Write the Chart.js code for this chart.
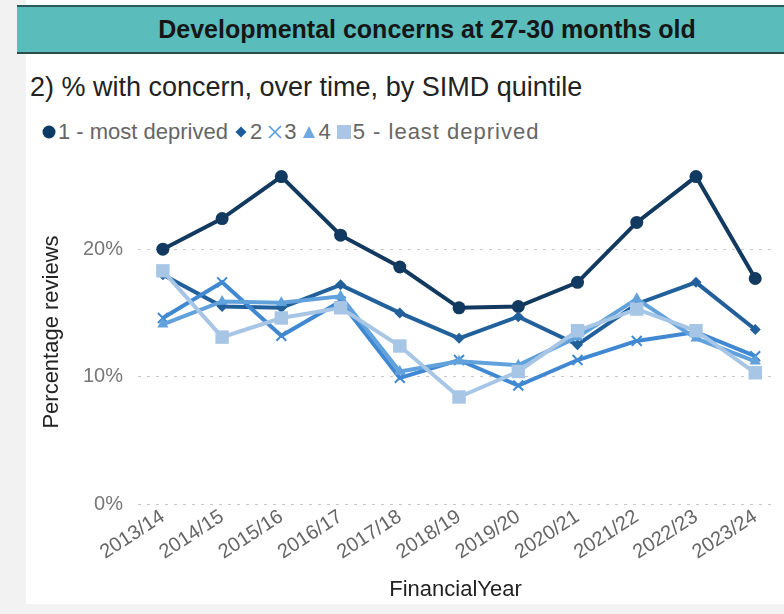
<!DOCTYPE html>
<html lang="en">
<head>
<meta charset="UTF-8">
<title>Developmental concerns at 27-30 months old</title>
<script src="https://cdn.jsdelivr.net/npm/chart.js@4.4.0/dist/chart.umd.min.js"></script>
<style>
  body { margin: 0; width: 784px; height: 614px; background: #f2f2f2; position: relative; overflow: hidden;
         font-family: "Liberation Sans", Arial, sans-serif; }
  #panel { position: absolute; left: 26px; top: 0; width: 758px; height: 604px; background: #fff; }
  #header { position: absolute; left: 17px; top: 5px; width: 767px; height: 45px; background: #5bbcbc;
            border-top: 2px solid #2c5a5a; border-bottom: 2px solid #2c4c4c; }
  #header-title { text-align: center; padding-left: 53px; font-weight: bold; font-size: 25px; line-height: 45px; color: #161616; }
  #subtitle { position: absolute; left: 30px; top: 72px; font-size: 27px; color: #222; white-space: nowrap; }
  #legend { position: absolute; left: 42px; top: 119px; height: 26px; font-size: 22px; color: #666;
            display: flex; align-items: center; white-space: nowrap; }
  .item { display: flex; align-items: center; margin-right: 6px; }
  .item svg { margin-right: 2px; }
  .item.wide span { letter-spacing: 1px; }
  #wrap { position: absolute; left: 0; top: 133px; width: 784px; height: 473px; }
</style>
</head>
<body>
<div id="panel"></div>
<div id="header"><div id="header-title">Developmental concerns at 27-30 months old</div></div>
<div id="subtitle">2) % with concern, over time, by SIMD quintile</div>
<div id="legend"></div>
<div id="wrap"><canvas id="chart" width="784" height="473"></canvas></div>

<script>
  // financial years on the x axis
  const years = ['2013/14', '2014/15', '2015/16', '2016/17', '2017/18', '2018/19',
                 '2019/20', '2020/21', '2021/22', '2022/23', '2023/24'];

  // % of reviews with a concern, per SIMD quintile
  const quint1 = [20.0, 22.4, 25.7, 21.1, 18.6, 15.4, 15.5, 17.4, 22.1, 25.7, 17.7];
  const quint2 = [18.0, 15.5, 15.4, 17.2, 15.0, 13.0, 14.7, 12.5, 15.7, 17.4, 13.7];
  const quint3 = [14.6, 17.4, 13.2, 15.9, 9.9, 11.3, 9.3, 11.3, 12.8, 13.5, 11.6];
  const quint4 = [14.1, 15.9, 15.8, 16.3, 10.4, 11.2, 10.9, 13.1, 16.1, 13.0, 11.2];
  const quint5 = [18.3, 13.1, 14.6, 15.4, 12.4, 8.4, 10.4, 13.6, 15.3, 13.6, 10.3];

  const seriesNames = ['1 - most deprived', '2', '3', '4', '5 - least deprived'];
  const yTicks = [0, 10, 20];

  const colours = ['#12395f', '#22609c', '#4089d2', '#62a2dc', '#a7c6e6'];
  const shapes  = ['circle', 'rectRot', 'crossRot', 'triangle', 'rect'];
  const radii   = [6.5, 5.5, 7, 6.5, 9.5];
  const allData = [quint1, quint2, quint3, quint4, quint5];

  const datasets = allData.map((vals, k) => ({
    label: seriesNames[k],
    data: vals.map((v, i) => ({ x: i, y: v })),
    borderColor: colours[k],
    backgroundColor: colours[k],
    borderWidth: 4,
    tension: 0,
    pointStyle: shapes[k],
    pointRadius: radii[k],
    pointBorderWidth: shapes[k] === 'crossRot' ? 2 : 0,
    pointBorderColor: colours[k],
    pointBackgroundColor: colours[k],
    order: 5 - k   // quintile 5 ends up on top
  }));

  // legend built as html so the marker/text gaps stay tight
  function markerSvg(shape, col) {
    let body = '';
    if (shape === 'circle') body = `<circle cx="7" cy="7" r="6.5" fill="${col}"/>`;
    if (shape === 'rectRot') body = `<polygon points="7,1.5 12.5,7 7,12.5 1.5,7" fill="${col}"/>`;
    if (shape === 'crossRot') body = `<path d="M1,1 L13,13 M13,1 L1,13" stroke="${col}" stroke-width="1.6" fill="none"/>`;
    if (shape === 'triangle') body = `<polygon points="7,1 13,13 1,13" fill="${col}"/>`;
    if (shape === 'rect') body = `<rect x="0" y="0" width="14" height="14" fill="${col}"/>`;
    return `<svg width="14" height="14" viewBox="0 0 14 14">${body}</svg>`;
  }
  const legendColours = ['#0e3a66', '#1d5c9a', '#5b9bdc', '#6fa8e0', '#a9c6e6'];
  document.getElementById('legend').innerHTML = seriesNames.map((n, k) =>
    `<span class="item${k === 4 ? ' wide' : ''}">${markerSvg(shapes[k], legendColours[k])}<span>${n}</span></span>`).join('');

  new Chart(document.getElementById('chart'), {
    type: 'line',
    data: { datasets: datasets },
    options: {
      responsive: false,
      animation: false,
      layout: { padding: { top: 9, right: 11, left: 0, bottom: 0 } },
      plugins: { legend: { display: false }, tooltip: { enabled: false } },
      scales: {
        x: {
          type: 'linear',
          min: -0.42,
          max: 10.3,
          afterBuildTicks: s => { s.ticks = years.map((y, i) => ({ value: i })); },
          afterFit: s => { s.height = 102; },
          grid: { display: false, drawTicks: false },
          border: { display: false },
          ticks: {
            autoSkip: false,
            minRotation: 33,
            maxRotation: 33,
            padding: 1,
            color: '#666',
            font: { family: 'Liberation Sans', size: 20 },
            callback: v => years[v]
          },
          title: {
            display: true,
            text: 'FinancialYear',
            color: '#222',
            font: { family: 'Liberation Sans', size: 22 },
            padding: { top: 0, bottom: 3 }
          }
        },
        y: {
          min: 0,
          max: 27,
          afterBuildTicks: s => { s.ticks = yTicks.map(v => ({ value: v })); },
          afterFit: s => { s.width = 138; },
          grid: { color: '#c8c8c8', lineWidth: 1, drawTicks: false },
          border: { display: false, dash: [3, 6] },
          ticks: {
            padding: 15,
            color: '#777',
            font: { family: 'Liberation Sans', size: 20 },
            callback: v => v + '%'
          },
          title: {
            display: true,
            text: 'Percentage reviews',
            color: '#222',
            font: { family: 'Liberation Sans', size: 22 },
            padding: { top: 39, bottom: 0 }
          }
        }
      }
    }
  });
</script>
</body>
</html>
